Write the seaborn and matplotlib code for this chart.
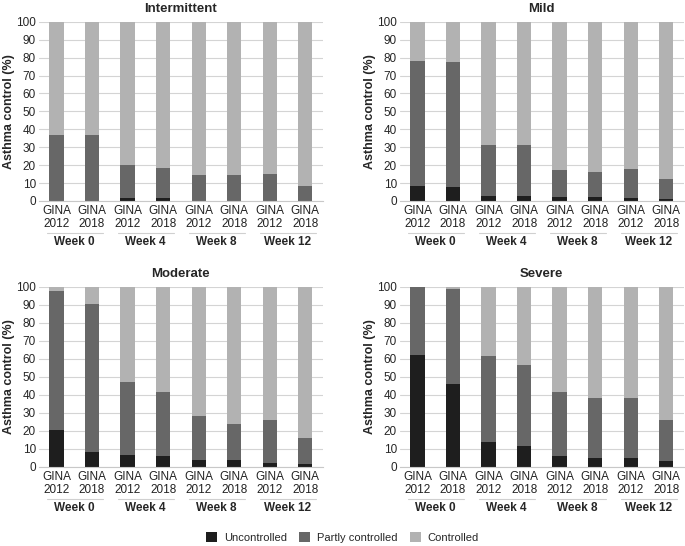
import matplotlib
matplotlib.use("Agg")
import matplotlib.pyplot as plt
import matplotlib.transforms as mtransforms
from matplotlib.patches import Patch
import seaborn as sns
import pandas as pd

# Bars in order: Week 0 (2012, 2018), Week 4, Week 8, Week 12
BAR_LABELS = ["GINA\n2012", "GINA\n2018"] * 4
WEEKS = ["Week 0", "Week 4", "Week 8", "Week 12"]
PANELS = ["Intermittent", "Mild", "Moderate", "Severe"]

# % uncontrolled per bar
UNCONTROLLED = {
    "Intermittent": [0, 0, 1.5, 1.5, 0, 0, 0, 0],
    "Mild": [8.5, 8, 2.5, 2.5, 2, 2, 1.5, 1],
    "Moderate": [20.5, 8, 6.3, 5.8, 3.8, 3.8, 2.2, 1.8],
    "Severe": [62.3, 45.7, 14, 11.5, 6.2, 5, 5, 3.5],
}
# % partly controlled per bar
PARTLY = {
    "Intermittent": [37, 37, 18.5, 17, 14.7, 14.7, 15.3, 8.2],
    "Mild": [69.8, 69.8, 29, 28.5, 15.2, 14.3, 16.5, 11.5],
    "Moderate": [77, 82.2, 40.7, 35.7, 24.2, 20.2, 23.8, 14.4],
    "Severe": [37.7, 52.8, 47.5, 45, 35.6, 33.3, 33.3, 22.5],
}

COLORS = {
    "Uncontrolled": "#1e1e1e",
    "Partly controlled": "#676767",
    "Controlled": "#b2b2b2",
}

sns.set_style("white")
plt.rcParams["font.family"] = ["Liberation Sans", "DejaVu Sans"]

fig = plt.figure(figsize=(6.85, 5.46), dpi=100)
positions = [
    [0.0565, 0.632, 0.415, 0.328],
    [0.5835, 0.632, 0.415, 0.328],
    [0.0565, 0.145, 0.415, 0.330],
    [0.5835, 0.145, 0.415, 0.330],
]

for name, pos in zip(PANELS, positions):
    ax = fig.add_axes(pos)
    unc = UNCONTROLLED[name]
    part = PARTLY[name]
    df = pd.DataFrame({
        "bar": range(len(BAR_LABELS)),
        "unc": unc,
        "cum": [u + p for u, p in zip(unc, part)],
        "total": [100] * len(unc),
    })
    # overlay from tallest to shortest to get stacked look
    sns.barplot(data=df, x="bar", y="total", color=COLORS["Controlled"],
                width=0.4, saturation=1, ax=ax, linewidth=0)
    sns.barplot(data=df, x="bar", y="cum", color=COLORS["Partly controlled"],
                width=0.4, saturation=1, ax=ax, linewidth=0)
    sns.barplot(data=df, x="bar", y="unc", color=COLORS["Uncontrolled"],
                width=0.4, saturation=1, ax=ax, linewidth=0)

    ax.set_ylim(0, 100)
    ax.set_xlim(-0.5, 7.5)
    ax.set_yticks(range(0, 101, 10))
    ax.yaxis.grid(True, color="#d4d4d4", linewidth=0.8)
    ax.set_axisbelow(True)
    for s in ["left", "right", "top"]:
        ax.spines[s].set_visible(False)
    ax.spines["bottom"].set_color("#c8c8c8")
    ax.set_xticks(range(len(BAR_LABELS)))
    ax.set_xticklabels(BAR_LABELS, fontsize=8.5, color="#222222", linespacing=1.1)
    ax.tick_params(axis="x", length=0, pad=3, labelsize=8.5)
    ax.tick_params(axis="y", length=0, pad=2, labelsize=8.5)
    ax.set_xlabel("")
    ax.set_ylabel("Asthma control (%)", fontsize=9, fontweight="bold", labelpad=1)
    ax.set_title(name, fontsize=9.5, fontweight="bold", pad=7)

    trans = mtransforms.blended_transform_factory(ax.transData, ax.transAxes)
    for i, week in enumerate(WEEKS):
        x0 = 2 * i
        ax.plot([x0 - 0.27, x0 + 1.3], [-0.18, -0.18], transform=trans,
                color="#d0d0d0", linewidth=0.8, clip_on=False)
        ax.text(x0 + 0.5, -0.23, week, transform=trans, ha="center", va="center",
                fontsize=8.5, fontweight="bold")

handles = [Patch(facecolor=c, edgecolor="none", label=k) for k, c in COLORS.items()]
fig.legend(handles=handles, loc="center", bbox_to_anchor=(0.5, 0.015), ncol=3,
           frameon=False, fontsize=8, handlelength=1.0, handleheight=1.0,
           columnspacing=1.1, handletextpad=0.6)

fig.savefig("out.png", dpi=100)
